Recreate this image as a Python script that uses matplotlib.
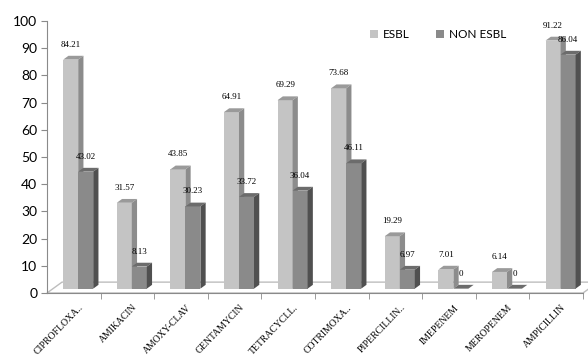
import matplotlib.pyplot as plt
from matplotlib.patches import Polygon, Rectangle, Patch
from matplotlib.transforms import offset_copy
import numpy as np

drugs = ['CIPROFLOXA..', 'AMIKACIN', 'AMOXY-CLAV', 'GENTAMYCIN', 'TETRACYCLL.',
         'COTRIMOXA..', 'PIPERCILLIN..', 'IMEPENEM', 'MEROPENEM', 'AMPICILLIN']
esbl = [84.21, 31.57, 43.85, 64.91, 69.29, 73.68, 19.29, 7.01, 6.14, 91.22]
non_esbl = [43.02, 8.13, 30.23, 33.72, 36.04, 46.11, 6.97, 0, 0, 86.04]

# fake 3d: depth shift of the floor in data units
DX, DY = 0.28, 4.0
D0, D1 = 0.4, 0.75          # bar front / back depth (fraction of floor)
W = 0.28                    # bar width
X0 = 0.19                   # gap before first bar in a group

faces = {
    'esbl': ('#c4c4c4', '#9a9a9a', '#8c8c8c'),
    'non': ('#8a8a8a', '#6c6c6c', '#505050'),
}

fig = plt.figure(figsize=(5.88, 3.63), dpi=100)
ax = fig.add_axes([47/588, 70/363, 541/588, 272/363])
ax.set_xlim(0, 541/53.6)
ax.set_ylim(0, 100)


def bar3d(x, h, cols):
    front, top, side = cols
    fx, fy = x + D0*DX, D0*DY
    bx, by = x + D1*DX, D1*DY
    ax.add_patch(Rectangle((fx, fy), W, h, facecolor=front, edgecolor='none', zorder=3))
    ax.add_patch(Polygon([(fx, fy+h), (fx+W, fy+h), (bx+W, by+h), (bx, by+h)],
                         facecolor=top, edgecolor='none', zorder=3))
    ax.add_patch(Polygon([(fx+W, fy), (fx+W, fy+h), (bx+W, by+h), (bx+W, by)],
                         facecolor=side, edgecolor='none', zorder=3))
    ax.text(fx + W/2, fy + h + 5.5, f'{h:g}', ha='center', va='center',
            fontsize=6.5, family='Liberation Serif', zorder=5)


# floor
n = len(drugs)
ax.add_patch(Polygon([(0, 0), (n, 0), (n+DX, DY), (DX, DY)], closed=True,
                     facecolor='white', edgecolor='#bdbdbd', lw=1, zorder=1, clip_on=False))

for i in range(n):
    bar3d(i + X0, esbl[i], faces['esbl'])
    bar3d(i + X0 + W, non_esbl[i], faces['non'])

for s in ['top', 'right']:
    ax.spines[s].set_visible(False)
ax.spines['left'].set_color('#8a8a8a')
ax.spines['bottom'].set_color('#8a8a8a')
ax.spines['bottom'].set_bounds(0, n)

ax.set_yticks(np.arange(0, 101, 10))
ax.tick_params(axis='y', length=4, color='#8a8a8a', labelsize=10, pad=3)
for t in ax.get_yticklabels():
    t.set_family('Lato')

ax.set_xticks(np.arange(n) + 0.5)
ax.set_xticks(np.arange(1, n + 1), minor=True)
ax.tick_params(axis='x', which='major', length=0, pad=0)
ax.tick_params(axis='x', which='minor', length=4, color='#8a8a8a')
ax.set_xticklabels(drugs, rotation=46, ha='right', va='top',
                   rotation_mode='anchor', fontsize=7, family='Liberation Serif')
for t in ax.get_xticklabels():
    t.set_transform(offset_copy(t.get_transform(), fig=fig, x=5, y=-10, units='dots'))

handles = [Patch(facecolor=faces['esbl'][0], label='ESBL'),
           Patch(facecolor=faces['non'][0], label='NON ESBL')]
fig.legend(handles=handles, loc='center', bbox_to_anchor=(0.745, 0.905), ncol=2,
           frameon=False, handlelength=0.7, handleheight=0.7, handletextpad=0.4,
           columnspacing=2.2, prop={'family': 'Lato', 'size': 8.5})

fig.savefig('out.png', dpi=100)
